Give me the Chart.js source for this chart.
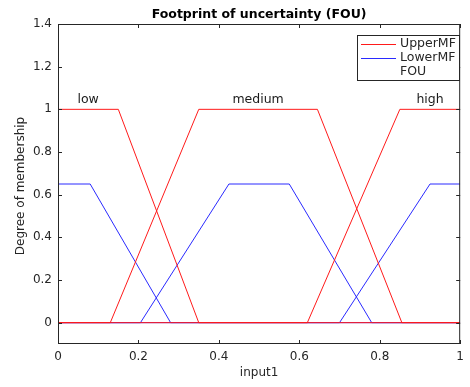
<!DOCTYPE html>
<html>
<head>
<meta charset="utf-8">
<script src="https://cdn.jsdelivr.net/npm/chart.js@4.4.0/dist/chart.umd.min.js"></script>
<style>
  html, body { margin: 0; padding: 0; background: #fff; }
  #wrap { width: 470px; height: 387px; }
</style>
</head>
<body>
<div id="wrap"><canvas id="fou"></canvas></div>
<script>
// Interval type-2 membership functions for input1 (trapezoid params a, b, c, d)
const mfNames = ['low', 'medium', 'high'];
const upperParams = [[0, 0, 0.15, 0.35], [0.13, 0.35, 0.645, 0.855], [0.62, 0.85, 1, 1]];
const lowerParams = [[0, 0, 0.08, 0.28], [0.205, 0.425, 0.575, 0.78], [0.70, 0.925, 1, 1]];
const lowerHeight = 0.65;
const labelY = 1.045;
const xTicks = [0, 0.2, 0.4, 0.6, 0.8, 1];
const yTicks = [0, 0.2, 0.4, 0.6, 0.8, 1, 1.2, 1.4];
const legendLabels = ['UpperMF', 'LowerMF', 'FOU'];

const RED = '#ff1a1a';
const BLUE = '#2a2aff';
const AXIS = '#262626';
const FONT = "'DejaVu Sans', sans-serif";

function trapmf(x, p) {
  const [a, b, c, d] = p;
  if (x < a || x > d) return 0;
  const left = x < b ? (x - a) / (b - a) : 1;
  const right = x > c ? (d - x) / (d - c) : 1;
  return Math.max(0, Math.min(left, right, 1));
}

function mfPoints(p, height) {
  const xs = [...new Set([0, 1, ...p].filter(v => v >= 0 && v <= 1))].sort((u, v) => u - v);
  return xs.map(x => ({ x: x, y: height * trapmf(x, p) }));
}

const datasets = [];
upperParams.forEach((p, i) => {
  datasets.push({ label: 'Upper ' + mfNames[i], data: mfPoints(p, 1), borderColor: RED });
});
lowerParams.forEach((p, i) => {
  datasets.push({ label: 'Lower ' + mfNames[i], data: mfPoints(p, lowerHeight), borderColor: BLUE });
});
datasets.forEach(ds => {
  ds.showLine = true;
  ds.borderWidth = 1;
  ds.pointRadius = 0;
  ds.fill = false;
});

// Box, inward ticks, labels, legend drawn MATLAB style
const matlabAxes = {
  id: 'matlabAxes',
  afterDatasetsDraw(chart) {
    const { ctx, chartArea: a, scales: { x, y } } = chart;
    ctx.save();

    // MF names above each upper plateau
    ctx.fillStyle = '#1a1a1a';
    ctx.font = '12.5px ' + FONT;
    ctx.textAlign = 'center';
    ctx.textBaseline = 'middle';
    upperParams.forEach((p, i) => {
      ctx.fillText(mfNames[i], x.getPixelForValue((p[1] + p[2]) / 2), y.getPixelForValue(labelY));
    });

    // axes box
    ctx.strokeStyle = AXIS;
    ctx.lineWidth = 1;
    ctx.strokeRect(a.left + 0.5, a.top + 0.5, a.width - 1, a.height - 1);

    const tick = 4;
    ctx.beginPath();
    xTicks.forEach(v => {
      const px = Math.round(x.getPixelForValue(v)) + 0.5;
      ctx.moveTo(px, a.bottom); ctx.lineTo(px, a.bottom - tick);
      ctx.moveTo(px, a.top); ctx.lineTo(px, a.top + tick);
    });
    yTicks.forEach(v => {
      const py = Math.round(y.getPixelForValue(v)) + 0.5;
      ctx.moveTo(a.left, py); ctx.lineTo(a.left + tick, py);
      ctx.moveTo(a.right, py); ctx.lineTo(a.right - tick, py);
    });
    ctx.stroke();

    // title and axis labels
    const cx = (a.left + a.right) / 2;
    ctx.fillStyle = '#000';
    ctx.font = 'bold 12.5px ' + FONT;
    ctx.fillText('Footprint of uncertainty (FOU)', cx, 15);
    ctx.fillStyle = AXIS;
    ctx.font = '12px ' + FONT;
    ctx.fillText('input1', cx, 373);
    ctx.save();
    ctx.translate(21, (a.top + a.bottom) / 2 + 2);
    ctx.rotate(-Math.PI / 2);
    ctx.fillText('Degree of membership', 0, 0);
    ctx.restore();

    // legend
    const lx = 357, ly = 35, lw = 103, lh = 46;
    ctx.fillStyle = '#fff';
    ctx.fillRect(lx, ly, lw, lh);
    ctx.strokeStyle = AXIS;
    ctx.strokeRect(lx + 0.5, ly + 0.5, lw - 1, lh - 1);
    const swatch = [RED, BLUE, null];
    ctx.textAlign = 'left';
    ctx.fillStyle = AXIS;
    ctx.font = '12.5px ' + FONT;
    legendLabels.forEach((name, i) => {
      const ry = ly + 9 + i * 14;
      if (swatch[i]) {
        ctx.strokeStyle = swatch[i];
        ctx.beginPath();
        ctx.moveTo(lx + 4, ry + 0.5);
        ctx.lineTo(lx + 39, ry + 0.5);
        ctx.stroke();
      }
      ctx.fillText(name, lx + 43, ry);
    });
    ctx.restore();
  }
};

new Chart(document.getElementById('fou'), {
  type: 'scatter',
  data: { datasets: datasets },
  options: {
    responsive: true,
    maintainAspectRatio: false,
    animation: false,
    layout: { padding: { top: 24, right: 6, left: 0, bottom: 0 } },
    plugins: {
      legend: { display: false },
      tooltip: { enabled: false }
    },
    scales: {
      x: {
        type: 'linear',
        min: 0,
        max: 1,
        grid: { display: false, drawTicks: false },
        border: { display: false },
        afterFit: scale => { scale.height = 43; },
        afterBuildTicks: scale => { scale.ticks = xTicks.map(v => ({ value: v })); },
        ticks: {
          padding: 6,
          color: AXIS,
          font: { family: FONT, size: 12 },
          callback: v => String(+v.toFixed(1))
        }
      },
      y: {
        type: 'linear',
        min: -0.1,
        max: 1.4,
        grid: { display: false, drawTicks: false },
        border: { display: false },
        afterFit: scale => { scale.width = 58; },
        afterBuildTicks: scale => { scale.ticks = yTicks.map(v => ({ value: v })); },
        ticks: {
          padding: 6,
          color: AXIS,
          font: { family: FONT, size: 12 },
          callback: v => String(+v.toFixed(1))
        }
      }
    }
  },
  plugins: [matlabAxes]
});
</script>
</body>
</html>
